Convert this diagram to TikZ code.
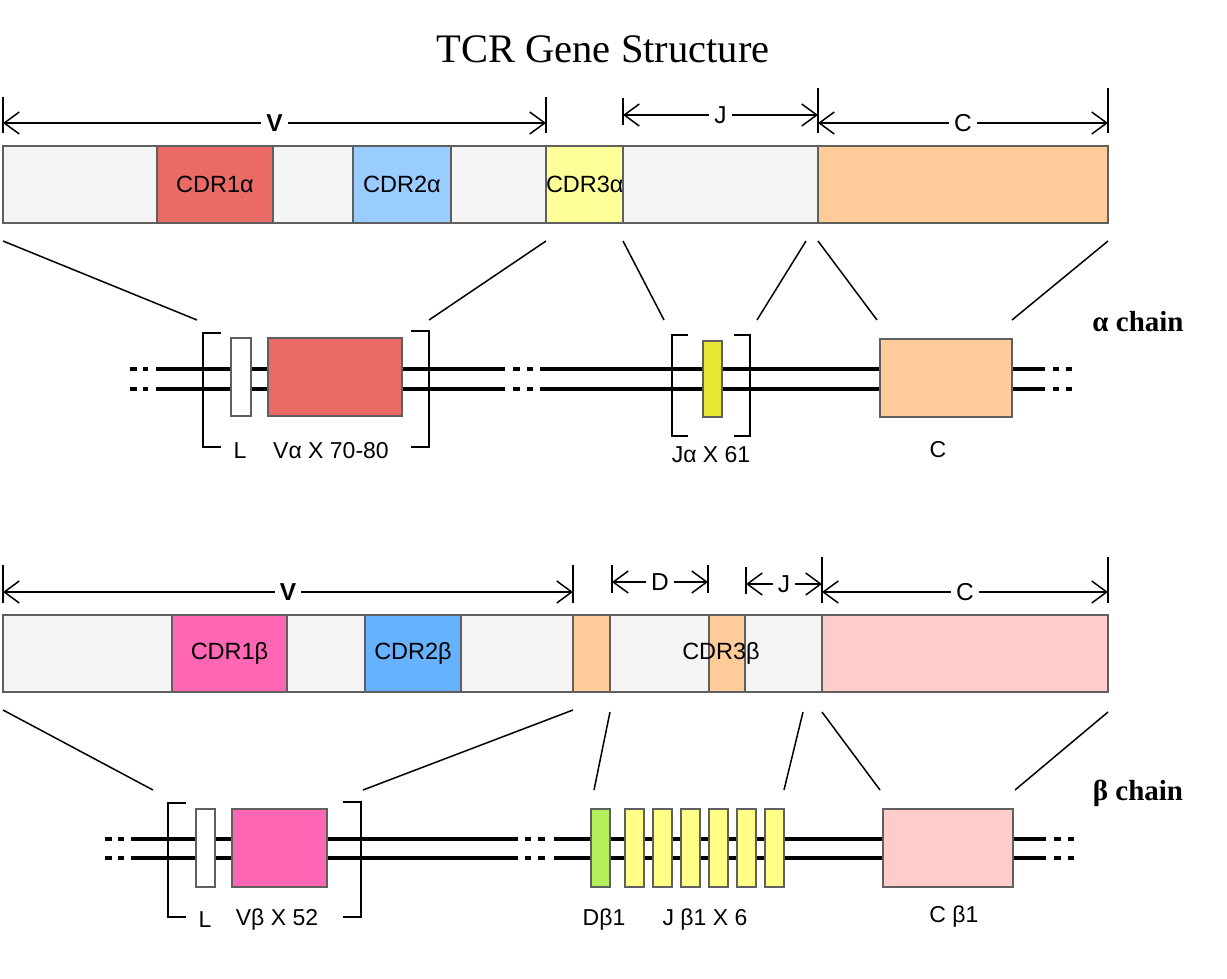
\documentclass[tikz,border=0pt]{standalone}
\usepackage{fontspec}
\setmainfont{Liberation Sans}
\newfontfamily\titlefont{Liberation Serif}
\usetikzlibrary{arrows.meta}
\definecolor{fwgray}{HTML}{F4F4F4}
\definecolor{cdronea}{HTML}{EA6B66}
\definecolor{cdrtwoa}{HTML}{99CCFF}
\definecolor{cdrthreea}{HTML}{FFFF99}
\definecolor{calpha}{HTML}{FFCC99}
\definecolor{jalpha}{HTML}{E6E633}
\definecolor{cdroneb}{HTML}{FF66B3}
\definecolor{cdrtwob}{HTML}{66B2FF}
\definecolor{cbeta}{HTML}{FFCCCC}
\definecolor{dbeta}{HTML}{B3F05A}
\definecolor{jbeta}{HTML}{FFFF88}
\definecolor{segline}{HTML}{5F5F5F}
\begin{document}
\begin{tikzpicture}[x=1pt,y=-1pt,
  seg/.style={draw=segline,line width=1.5pt,minimum height=77pt,inner sep=0pt,outer sep=0pt,anchor=north west,font=\fontsize{23.5}{26}\selectfont},
  exon/.style={draw=segline,line width=1.5pt,minimum height=78pt,inner sep=0pt,outer sep=0pt,anchor=north west},
  dimline/.style={line width=1.5pt,{Straight Barb[length=15pt,width=22pt]}-{Straight Barb[length=15pt,width=22pt]}},
  dimtick/.style={line width=1.5pt},
  dimlabel/.style={fill=white,inner xsep=5pt,inner ysep=1pt,font=\fontsize{24.5}{26}\selectfont},
  fan/.style={line width=1.5pt},
  strand/.style={line width=4pt},
  bracket/.style={line width=2pt},
  genelabel/.style={font=\fontsize{23}{26}\selectfont},
  chainlabel/.style={anchor=base,font=\titlefont\bfseries\fontsize{29}{32}\selectfont}]
\useasboundingbox (0,0) rectangle (1227,978);

\node[font=\titlefont\fontsize{40.5}{44}\selectfont] (title) at (603,49) {TCR Gene Structure};

\coordinate (avl) at (3,123);
\coordinate (avr) at (546,123);
\coordinate (ajl) at (623,115);
\coordinate (ajr) at (818,115);
\coordinate (acl) at (818,123);
\coordinate (acr) at (1108,123);
\draw[dimtick] (3,97) -- (3,133);
\draw[dimtick] (546,97) -- (546,133);
\draw[dimtick] (623,98) -- (623,125);
\draw[dimtick] (818,88) -- (818,133);
\draw[dimtick] (1108,88) -- (1108,133);
\draw[dimline] (avl) -- node[dimlabel] {\textbf{V}} (avr);
\draw[dimline] (ajl) -- node[dimlabel] {J} (ajr);
\draw[dimline] (acl) -- node[dimlabel] {C} (acr);

\node[seg,fill=fwgray,minimum width=154pt] (a0) at (3,146) {};
\node[seg,fill=cdronea,minimum width=116pt] (acdr1) at (157,146) {CDR1α};
\node[seg,fill=fwgray,minimum width=80pt] (a1) at (273,146) {};
\node[seg,fill=cdrtwoa,minimum width=98pt] (acdr2) at (353,146) {CDR2α};
\node[seg,fill=fwgray,minimum width=95pt] (a2) at (451,146) {};
\node[seg,fill=cdrthreea,minimum width=77pt] (acdr3) at (546,146) {CDR3α};
\node[seg,fill=fwgray,minimum width=195pt] (aj) at (623,146) {};
\node[seg,fill=calpha,minimum width=290pt] (ac) at (818,146) {};

\coordinate (fa1) at (3,241);
\coordinate (fa2) at (546,241);
\coordinate (fa3) at (623,241);
\coordinate (fa4) at (806,241);
\coordinate (fa5) at (818,241);
\coordinate (fa6) at (1108,241);
\coordinate (ga1) at (197,320);
\coordinate (ga2) at (429,320);
\coordinate (ga3) at (664,320);
\coordinate (ga4) at (757,320);
\coordinate (ga5) at (877,320);
\coordinate (ga6) at (1012,320);
\draw[fan] (fa1) -- (ga1);
\draw[fan] (fa2) -- (ga2);
\draw[fan] (fa3) -- (ga3);
\draw[fan] (fa4) -- (ga4);
\draw[fan] (fa5) -- (ga5);
\draw[fan] (fa6) -- (ga6);

\draw[strand] (130,369) -- (137,369) (143,369) -- (148,369) (156,369) -- (505,369)
  (513,369) -- (520,369) (527,369) -- (533,369) (540,369) -- (1045,369)
  (1053,369) -- (1059,369) (1066,369) -- (1072,369);
\draw[strand] (130,389) -- (137,389) (143,389) -- (148,389) (156,389) -- (505,389)
  (513,389) -- (520,389) (527,389) -- (533,389) (540,389) -- (1045,389)
  (1053,389) -- (1059,389) (1066,389) -- (1072,389);

\draw[bracket] (221,333) -- (203,333) -- (203,447) -- (221,447);
\draw[bracket] (411,331) -- (429,331) -- (429,447) -- (411,447);
\draw[bracket] (688,335) -- (672,335) -- (672,436) -- (688,436);
\draw[bracket] (734,335) -- (750,335) -- (750,436) -- (734,436);

\node[exon,fill=white,minimum width=20pt] (la) at (231,338) {};
\node[exon,fill=cdronea,minimum width=134pt] (va) at (268,338) {};
\node[exon,fill=jalpha,minimum width=19pt,minimum height=76pt] (ja) at (703,341) {};
\node[exon,fill=calpha,minimum width=132pt] (ca) at (880,339) {};

\node[genelabel] (lalab) at (240,451) {L};
\node[genelabel] (valab) at (331,451) {Vα X 70-80};
\node[genelabel] (jalab) at (711,455) {Jα X 61};
\node[genelabel] (calab) at (938,450) {C};
\node[chainlabel] (achain) at (1138,331) {α chain};

\coordinate (bvl) at (3,592);
\coordinate (bvr) at (573,592);
\coordinate (bdl) at (612,582);
\coordinate (bdr) at (708,582);
\coordinate (bjl) at (746,584);
\coordinate (bjr) at (822,584);
\coordinate (bcl) at (822,592);
\coordinate (bcr) at (1108,592);
\draw[dimtick] (3,565) -- (3,603);
\draw[dimtick] (573,565) -- (573,603);
\draw[dimtick] (612,565) -- (612,593);
\draw[dimtick] (708,565) -- (708,593);
\draw[dimtick] (746,567) -- (746,594);
\draw[dimtick] (822,557) -- (822,603);
\draw[dimtick] (1108,557) -- (1108,603);
\draw[dimline] (bvl) -- node[dimlabel] {\textbf{V}} (bvr);
\draw[dimline] (bdl) -- node[dimlabel] {D} (bdr);
\draw[dimline] (bjl) -- node[dimlabel] {J} (bjr);
\draw[dimline] (bcl) -- node[dimlabel] {C} (bcr);

\node[seg,fill=fwgray,minimum width=169pt] (b0) at (3,615) {};
\node[seg,fill=cdroneb,minimum width=115pt] (bcdr1) at (172,615) {CDR1β};
\node[seg,fill=fwgray,minimum width=78pt] (b1) at (287,615) {};
\node[seg,fill=cdrtwob,minimum width=96pt] (bcdr2) at (365,615) {CDR2β};
\node[seg,fill=fwgray,minimum width=112pt] (b2) at (461,615) {};
\node[seg,fill=calpha,minimum width=37pt] (bdn) at (573,615) {};
\node[seg,fill=fwgray,minimum width=99pt] (bd) at (610,615) {};
\node[seg,fill=calpha,minimum width=36pt] (bjn) at (709,615) {};
\node[seg,fill=fwgray,minimum width=77pt] (bj) at (745,615) {};
\node[seg,fill=cbeta,minimum width=286pt] (bc) at (822,615) {};
\node[font=\fontsize{23.5}{26}\selectfont] (bcdr3) at (721,653) {CDR3β};

\coordinate (fb1) at (3,710);
\coordinate (fb2) at (573,710);
\coordinate (fb3) at (610,712);
\coordinate (fb4) at (803,712);
\coordinate (fb5) at (822,712);
\coordinate (fb6) at (1108,712);
\coordinate (gb1) at (153,790);
\coordinate (gb2) at (363,790);
\coordinate (gb3) at (594,790);
\coordinate (gb4) at (784,790);
\coordinate (gb5) at (880,790);
\coordinate (gb6) at (1015,790);
\draw[fan] (fb1) -- (gb1);
\draw[fan] (fb2) -- (gb2);
\draw[fan] (fb3) -- (gb3);
\draw[fan] (fb4) -- (gb4);
\draw[fan] (fb5) -- (gb5);
\draw[fan] (fb6) -- (gb6);

\draw[strand] (105,839) -- (112,839) (118,839) -- (124,839) (131,839) -- (518,839)
  (525,839) -- (531,839) (538,839) -- (545,839) (554,839) -- (1046,839)
  (1054,839) -- (1061,839) (1068,839) -- (1074,839);
\draw[strand] (105,858) -- (112,858) (118,858) -- (124,858) (131,858) -- (518,858)
  (525,858) -- (531,858) (538,858) -- (545,858) (554,858) -- (1046,858)
  (1054,858) -- (1061,858) (1068,858) -- (1074,858);

\draw[bracket] (186,803) -- (168,803) -- (168,917) -- (186,917);
\draw[bracket] (343,802) -- (361,802) -- (361,917) -- (343,917);

\node[exon,fill=white,minimum width=19pt] (lb) at (196,809) {};
\node[exon,fill=cdroneb,minimum width=95pt] (vb) at (232,809) {};
\node[exon,fill=dbeta,minimum width=19pt] (db) at (591,809) {};
\node[exon,fill=jbeta,minimum width=19pt] (jb1) at (625,809) {};
\node[exon,fill=jbeta,minimum width=19pt] (jb2) at (653,809) {};
\node[exon,fill=jbeta,minimum width=19pt] (jb3) at (681,809) {};
\node[exon,fill=jbeta,minimum width=19pt] (jb4) at (709,809) {};
\node[exon,fill=jbeta,minimum width=19pt] (jb5) at (737,809) {};
\node[exon,fill=jbeta,minimum width=19pt] (jb6) at (765,809) {};
\node[exon,fill=cbeta,minimum width=130pt] (cb) at (883,809) {};

\node[genelabel] (lblab) at (205,920) {L};
\node[genelabel] (vblab) at (277,920) {Vβ X 52};
\node[genelabel] (dblab) at (604,920) {Dβ1};
\node[genelabel] (jblab) at (705,920) {J β1 X 6};
\node[genelabel] (cblab) at (954,917) {C β1};
\node[chainlabel] (bchain) at (1138,800) {β chain};
\end{tikzpicture}
\end{document}
